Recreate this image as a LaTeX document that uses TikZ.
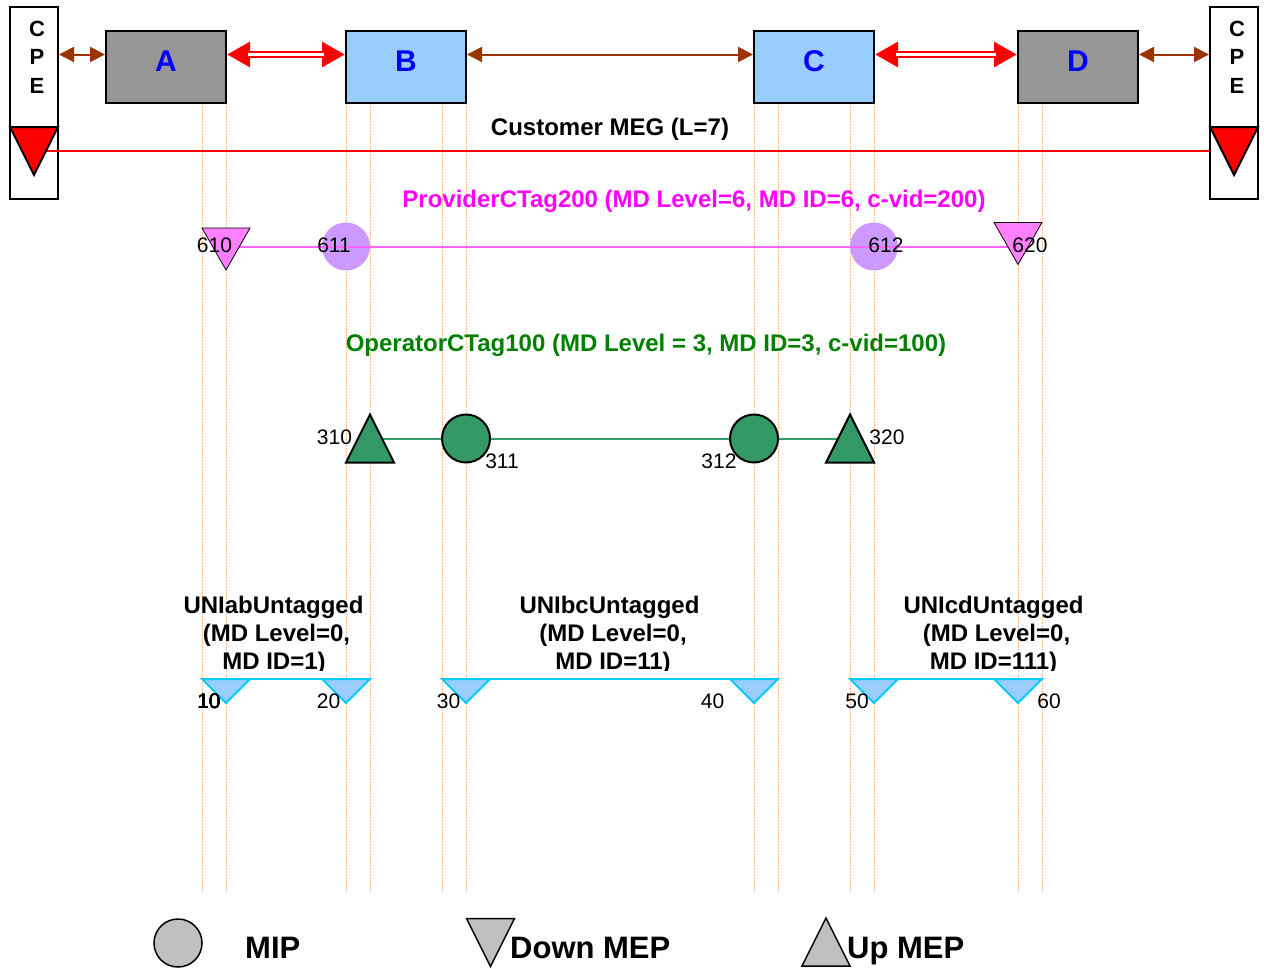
\documentclass[tikz,border=0pt]{standalone}
\usepackage{fontspec}
\setmainfont{Liberation Sans}
\usetikzlibrary{arrows.meta}
\definecolor{boxgray}{HTML}{969696}
\definecolor{boxblue}{HTML}{99CCFF}
\definecolor{lettblue}{HTML}{0000FF}
\definecolor{linkbrown}{HTML}{993300}
\definecolor{provmag}{HTML}{FF00FF}
\definecolor{provline}{HTML}{FF66FF}
\definecolor{provtri}{HTML}{FF80FF}
\definecolor{provmip}{HTML}{CC99FF}
\definecolor{opgreen}{HTML}{008000}
\definecolor{seagreen}{HTML}{339966}
\definecolor{unicyan}{HTML}{00CCFF}
\definecolor{unifill}{HTML}{99CCFF}
\definecolor{leggray}{HTML}{C0C0C0}
\definecolor{guidec}{RGB}{255,190,140}
\newcommand\downtri[2]{\filldraw[#1] (#2.north west) -- (#2.north east) -- (#2.south) -- cycle;}
\newcommand\uptri[2]{\filldraw[#1] (#2.south west) -- (#2.south east) -- (#2.north) -- cycle;}
\begin{document}
\begin{tikzpicture}[x=1pt,y=-1pt,
  guide/.style={draw=guidec, line width=1pt, dash pattern=on 1.5pt off 1.5pt},
  unitbox/.style={draw=black, line width=2pt, minimum width=120pt, minimum height=72pt, inner sep=0pt},
  cpebox/.style={draw=black, line width=2pt, fill=white, minimum width=48pt, minimum height=192pt, inner sep=0pt},
  frame/.style 2 args={inner sep=0pt, outer sep=0pt, minimum width=#1, minimum height=#2},
  boxletter/.style={font=\fontsize{30}{30}\selectfont\bfseries, text=lettblue, inner sep=0pt},
  cpeletter/.style={font=\fontsize{22}{22}\selectfont\bfseries, inner sep=0pt},
  title/.style={font=\fontsize{24}{28}\selectfont\bfseries, inner sep=0pt, anchor=base},
  num/.style={font=\fontsize{21}{21}\selectfont, inner sep=0pt},
  legtext/.style={font=\fontsize{31}{31}\selectfont\bfseries, inner sep=0pt, anchor=base west},
  brownarr/.style={draw=linkbrown, line width=2pt, {Triangle[length=15pt,width=15pt]}-{Triangle[length=15pt,width=15pt]}},
  redarr/.style={draw=red, line width=7pt, {Triangle[length=23pt,width=24pt]}-{Triangle[length=23pt,width=24pt]}},
  redgap/.style={draw=white, line width=3pt, shorten <=21pt, shorten >=21pt},
  provmep/.style={fill=provtri, draw=black, line width=0.8pt},
  provmipst/.style={circle, fill=provmip, minimum size=48pt, inner sep=0pt},
  opmep/.style={fill=seagreen, draw=black, line width=2pt, line join=miter},
  opmip/.style={circle, fill=seagreen, draw=black, line width=2pt, minimum size=48pt, inner sep=0pt},
  unimep/.style={fill=unifill, draw=unicyan, line width=2pt},
  cust/.style={fill=red, draw=black, line width=2pt},
  legshape/.style={fill=leggray, draw=black, line width=1.5pt}
]
\useasboundingbox (0,0) rectangle (1264,969);

% port guides
\foreach \gx in {202,226,346,370,442,466,754,778,850,874,1018,1042}
  \draw[guide] (\gx,103) -- (\gx,893);

% customer equipment
\node[cpebox] (cpeL) at (34,103) {};
\node[cpebox] (cpeR) at (1234,103) {};
\foreach \ly/\lt in {29/C,57/P,86/E}{
  \node[cpeletter] at (37,\ly) {\lt};
  \node[cpeletter] at (1237,\ly) {\lt};
}
\draw[black, line width=2pt] (cpeL.west |- 0,127) -- (cpeL.east |- 0,127);
\draw[black, line width=2pt] (cpeR.west |- 0,127) -- (cpeR.east |- 0,127);

% bridges
\node[unitbox, fill=boxgray] (A) at (166,67) {};
\node[unitbox, fill=boxblue] (B) at (406,67) {};
\node[unitbox, fill=boxblue] (C) at (814,67) {};
\node[unitbox, fill=boxgray] (D) at (1078,67) {};
\node[boxletter] at (166,61) {A};
\node[boxletter] at (406,61) {B};
\node[boxletter] at (814,61) {C};
\node[boxletter] at (1078,61) {D};

% links
\coordinate (ay) at (0,54.5);
\draw[brownarr] (cpeL.east |- ay) -- (A.west |- ay);
\draw[brownarr] (B.east |- ay) -- (C.west |- ay);
\draw[brownarr] (D.east |- ay) -- (cpeR.west |- ay);
\draw[redarr] (A.east |- ay) -- (B.west |- ay);
\draw[redgap] (A.east |- ay) -- (B.west |- ay);
\draw[redarr] (C.east |- ay) -- (D.west |- ay);
\draw[redgap] (C.east |- ay) -- (D.west |- ay);

% customer MEG
\node[title] at (610,135.5) {Customer MEG (L=7)};
\node[frame={48pt}{48pt}] (tL) at (34,151) {};
\node[frame={48pt}{48pt}] (tR) at (1234,151) {};
\draw[red, line width=2.5pt] (tL.center) -- (cpeR.west |- tL.center);
\downtri{cust}{tL}
\downtri{cust}{tR}

% provider MEG
\node[title, text=provmag] at (694,207.5) {ProviderCTag200 (MD Level=6, MD ID=6, c-vid=200)};
\node[provmipst] (m611) at (346,246.5) {};
\node[provmipst] (m612) at (874,246.5) {};
\node[frame={48pt}{42pt}] (m610) at (226,249) {};
\node[frame={48pt}{42pt}] (m620) at (1018,243.5) {};
\draw[provline, line width=2pt] (m610 |- m611) -- (m611.center) -- (m612.center) -- (m620 |- m612);
\downtri{provmep}{m610}
\downtri{provmep}{m620}
\node[num] at (214.5,245) {610};
\node[num] at (334,245) {611};
\node[num] at (886,245) {612};
\node[num] at (1030,245) {620};

% operator MEG
\node[title, text=opgreen] at (646,351.5) {OperatorCTag100 (MD Level = 3, MD ID=3, c-vid=100)};
\node[frame={48pt}{48pt}] (m310) at (370,438.5) {};
\node[frame={48pt}{48pt}] (m320) at (850,438.5) {};
\draw[seagreen, line width=2pt] (m310.center) -- (m320.center);
\node[opmip] (m311) at (466,438.5) {};
\node[opmip] (m312) at (754,438.5) {};
\uptri{opmep}{m310}
\uptri{opmep}{m320}
\node[num] at (334.5,437.5) {310};
\node[num] at (502,461) {311};
\node[num] at (719,461) {312};
\node[num] at (887,437.5) {320};

% UNI MEGs
\begin{scope}
  \clip (0,560) rectangle (1264,670.5);
  \node[title] at (273.5,613.5) {UNIabUntagged};
  \node[title] at (276.5,641.5) {(MD Level=0,};
  \node[title] at (274,669.5) {MD ID=1)};
  \node[title] at (609.5,613.5) {UNIbcUntagged};
  \node[title] at (613,641.5) {(MD Level=0,};
  \node[title] at (613,669.5) {MD ID=11)};
  \node[title] at (993.5,613.5) {UNIcdUntagged};
  \node[title] at (996.5,641.5) {(MD Level=0,};
  \node[title] at (993.5,669.5) {MD ID=111)};
\end{scope}
\foreach \n/\ux in {u10/226,u20/346,u30/466,u40/754,u50/874,u60/1018}
  \node[frame={48pt}{24pt}] (\n) at (\ux,691) {};
\draw[unicyan, line width=2pt] (u10.north west) -- (u20.north east);
\draw[unicyan, line width=2pt] (u30.north west) -- (u40.north east);
\draw[unicyan, line width=2pt] (u50.north west) -- (u60.north east);
\foreach \n in {u10,u20,u30,u40,u50,u60}
  \downtri{unimep}{\n}
\node[num] at (209,701) {10};
\node[num] at (328.5,701) {20};
\node[num] at (448.5,701) {30};
\node[num] at (712.5,701) {40};
\node[num] at (857,701) {50};
\node[num] at (1049,701) {60};

% legend
\node[legshape, circle, minimum size=48pt, inner sep=0pt] (legmip) at (178,943) {};
\node[frame={48pt}{48pt}] (legdown) at (490.5,942.5) {};
\node[frame={48pt}{48pt}] (legup) at (826,942) {};
\downtri{legshape}{legdown}
\uptri{legshape}{legup}
\node[legtext] at (245,958) {MIP};
\node[legtext] at (510,958) {Down MEP};
\node[legtext] at (847,958) {Up MEP};
\end{tikzpicture}
\end{document}
